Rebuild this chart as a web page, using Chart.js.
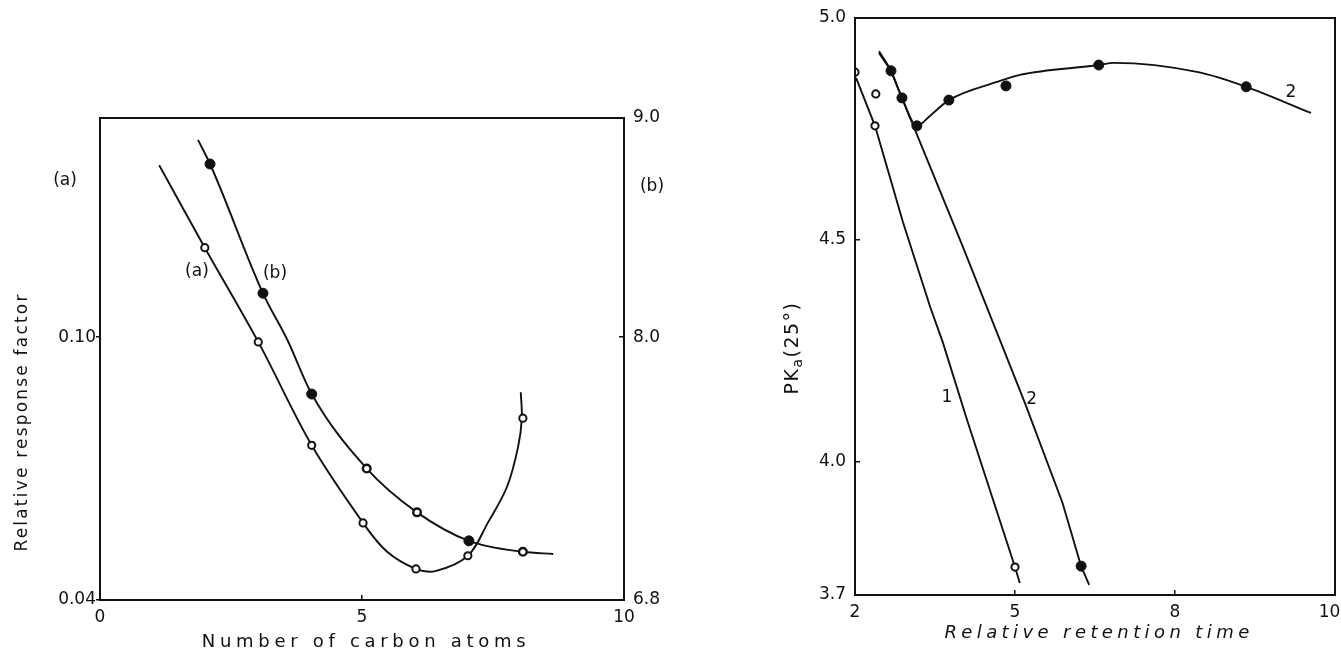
<!DOCTYPE html>
<html><head><meta charset="utf-8">
<script src="https://cdn.jsdelivr.net/npm/chart.js@4.4.1/dist/chart.umd.min.js"></script>
<style>
html,body{margin:0;padding:0;background:#fff;}
#wrap{position:relative;width:1341px;height:651px;overflow:hidden;}
#c1{position:absolute;left:0;top:0;}
#c2{position:absolute;left:700px;top:0;}
</style></head><body>
<div id="wrap">
<canvas id="c1" width="700" height="651"></canvas>
<canvas id="c2" width="641" height="651"></canvas>
</div>
<script>
// ---------------- DATA: left panel ----------------
const carbonTicks = [0, 5, 10];
const factorTicks = [0.04, 0.10];      // left axis (a)
const scaleBTicks = [6.8, 8.0, 9.0];   // right axis (b)

// curve (a): measured points (open circles)
const aMarkX = [2.0, 3.02, 4.04, 5.02, 6.03, 7.02, 8.07];
const aMarkY = [0.1204, 0.0989, 0.0753, 0.0576, 0.0471, 0.0501, 0.0815];
// curve (a): drawn curve
const aCurveX = [1.13, 2.0, 3.02, 4.04, 5.02, 5.48, 6.03, 6.4, 7.02, 7.4, 7.77, 7.98, 8.05, 8.03];
const aCurveY = [0.1392, 0.1204, 0.0989, 0.0753, 0.0576, 0.0510, 0.0471, 0.0466, 0.0501, 0.0576, 0.0659, 0.0750, 0.0815, 0.0874];

// curve (b): measured points
const bMarkX = [2.1, 3.11, 4.04, 5.09, 6.05, 7.04, 8.07];
const bMarkY = [8.79, 8.20, 7.74, 7.40, 7.20, 7.07, 7.02];
// curve (b): drawn curve
const bCurveX = [1.87, 2.1, 3.11, 3.57, 4.04, 5.09, 6.05, 7.04, 8.07, 8.65];
const bCurveY = [8.90, 8.79, 8.20, 7.99, 7.74, 7.40, 7.20, 7.07, 7.02, 7.01];

// ---------------- DATA: right panel ----------------
const retentionTicks = [2, 5, 8, 10];
const pkaTicks = [3.7, 4.0, 4.5, 5.0];

// series 1 (open circles)
const s1MarkX = [2.0, 2.39, 2.375, 5.0];
const s1MarkY = [4.878, 4.829, 4.757, 3.763];
const s1LineX = [2.02, 2.375, 2.90, 3.41, 3.65, 4.10, 4.59, 5.0, 5.09];
const s1LineY = [4.865, 4.757, 4.54, 4.349, 4.268, 4.095, 3.914, 3.763, 3.727];

// series 2 (filled circles)
const s2MarkX = [2.675, 2.88, 3.16, 3.76, 4.83, 6.57, 8.89, 6.24];
const s2MarkY = [4.881, 4.820, 4.757, 4.815, 4.847, 4.894, 4.845, 3.765];
const s2UpperX = [2.45, 2.675, 2.88, 3.16, 3.41, 3.76, 4.66, 5.09, 6.57, 6.85, 8.29, 8.89, 9.7];
const s2UpperY = [4.925, 4.881, 4.820, 4.757, 4.780, 4.815, 4.856, 4.872, 4.894, 4.899, 4.878, 4.845, 4.786];
const s2LineX = [2.45, 2.675, 2.88, 4.025, 5.185, 5.89, 6.24, 6.39];
const s2LineY = [4.921, 4.881, 4.820, 4.484, 4.133, 3.908, 3.765, 3.723];

// ---------------- styling ----------------
const INK = '#111';
const FAM = "'DejaVu Sans', sans-serif";
const TICK_FONT = {family: FAM, size: 17};
const bFilled = [true, true, true, false, false, true, false];

const pts = (xs, ys) => xs.map((x, i) => ({x, y: ys[i]}));

class EqualStepScale extends Chart.LinearScale {
  getPixelForValue(value) {
    const s = this.options.steps;
    const n = s.length - 1;
    let i = 0;
    while (i < n - 1 && value > s[i + 1]) i++;
    const dec = (i + (value - s[i]) / (s[i + 1] - s[i])) / n;
    return this.getPixelForDecimal(dec);
  }
  getValueForPixel(pixel) {
    const s = this.options.steps;
    const n = s.length - 1;
    const d = this.getDecimalForPixel(pixel) * n;
    const i = Math.min(Math.max(Math.floor(d), 0), n - 1);
    return s[i] + (d - i) * (s[i + 1] - s[i]);
  }
}
EqualStepScale.id = 'equalStep';
EqualStepScale.defaults = Chart.LinearScale.defaults;
Chart.register(EqualStepScale);

function makeTextPlugin(items) {
  return {
    id: 'figText',
    afterDraw(chart) {
      const ctx = chart.ctx;
      const ca = chart.chartArea;
      ctx.save();
      ctx.strokeStyle = INK;
      ctx.lineWidth = 2;
      ctx.strokeRect(ca.left, ca.top, ca.right - ca.left, ca.bottom - ca.top);
      ctx.fillStyle = INK;
      ctx.textBaseline = 'middle';
      for (const t of items) {
        let x, y;
        if (t.at) {
          x = chart.scales[t.xAxis].getPixelForValue(t.at[0]);
          y = chart.scales[t.yAxis].getPixelForValue(t.at[1]);
        } else {
          [x, y] = t.pos(ca, chart.scales);
        }
        ctx.save();
        ctx.translate(x, y);
        if (t.rotate) ctx.rotate(t.rotate);
        if ('letterSpacing' in ctx) ctx.letterSpacing = (t.spacing || 0) + 'px';
        const parts = t.parts || [{text: t.text}];
        let total = 0;
        const widths = parts.map(p => {
          ctx.font = `${t.style || ''} ${p.size || t.size || 17}px ${FAM}`;
          const w = ctx.measureText(p.text).width;
          total += w;
          return w;
        });
        let cx = -total / 2;
        ctx.textAlign = 'left';
        parts.forEach((p, i) => {
          ctx.font = `${t.style || ''} ${p.size || t.size || 17}px ${FAM}`;
          ctx.fillText(p.text, cx, p.dy || 0);
          cx += widths[i];
        });
        ctx.restore();
      }
      ctx.restore();
    }
  };
}

function fixSize(prop, val) {
  return s => {
    s[prop] = val;
    s.paddingLeft = 0; s.paddingRight = 0; s.paddingTop = 0; s.paddingBottom = 0;
  };
}

function axisBase(ticksArr, fmt, tl, pad) {
  return {
    afterBuildTicks: s => { s.ticks = ticksArr.map(v => ({value: v})); },
    ticks: {font: TICK_FONT, color: INK, padding: pad, autoSkip: false, maxRotation: 0,
            callback: v => fmt(v)},
    grid: {drawOnChartArea: false, drawTicks: true, tickLength: tl, color: INK, lineWidth: 1.5},
    border: {display: false}
  };
}

// last label of the right panel sits just inside the frame edge
const lastInside = (arr) => v => (v === arr[arr.length - 1] ? String(v) + '\u2007' : String(v));

// ---------------- left chart ----------------
new Chart(document.getElementById('c1'), {
  type: 'line',
  data: {datasets: [
    {data: pts(aMarkX, aMarkY), yAxisID: 'yA', showLine: false, order: 0,
     pointRadius: 3.6, pointBorderWidth: 2, pointBorderColor: INK, pointBackgroundColor: '#fff'},
    {data: pts(bMarkX, bMarkY), yAxisID: 'yB', showLine: false, order: 0,
     pointRadius: c => bFilled[c.dataIndex] ? 5 : 3.8,
     pointBorderWidth: c => bFilled[c.dataIndex] ? 1 : 2.4,
     pointBorderColor: INK,
     pointBackgroundColor: c => bFilled[c.dataIndex] ? INK : '#fff'},
    {data: pts(aCurveX, aCurveY), yAxisID: 'yA', order: 1, pointRadius: 0,
     borderColor: INK, borderWidth: 1.9, tension: 0.35},
    {data: pts(bCurveX, bCurveY), yAxisID: 'yB', order: 1, pointRadius: 0,
     borderColor: INK, borderWidth: 1.9, cubicInterpolationMode: 'monotone'}
  ]},
  options: {
    responsive: false, animation: false, events: [],
    layout: {padding: {top: 118, left: 0, right: 0, bottom: 0}},
    plugins: {legend: {display: false}, tooltip: {enabled: false}},
    scales: {
      x: Object.assign(axisBase(carbonTicks, v => String(v), -5, 12), {
        type: 'linear', position: 'bottom', min: 0, max: 10,
        afterFit: fixSize('height', 51)
      }),
      yA: Object.assign(axisBase(factorTicks, v => v.toFixed(2), 4, 0), {
        type: 'linear', position: 'left', min: 0.04, max: 0.15,
        afterFit: fixSize('width', 100)
      }),
      yB: Object.assign(axisBase(scaleBTicks, v => v.toFixed(1), -5, 14), {
        type: 'linear', position: 'right', min: 6.8, max: 9.0,
        afterFit: fixSize('width', 76)
      })
    }
  },
  plugins: [makeTextPlugin([
    {text: 'Number of carbon atoms', size: 18, spacing: 4.7,
     pos: ca => [(ca.left + ca.right) / 2 + 4, ca.bottom + 42]},
    {text: 'Relative response factor', size: 17, spacing: 2.2, rotate: -Math.PI / 2,
     pos: ca => [ca.left - 77, ca.bottom - 178]},
    {text: '(a)', size: 17, xAxis: 'x', yAxis: 'yA', at: [1.85, 0.1149]},
    {text: '(b)', size: 17, xAxis: 'x', yAxis: 'yB', at: [3.34, 8.29]},
    {text: '(a)', size: 17, pos: (ca, s) => [ca.left - 35, s.yA.getPixelForValue(0.1357)]},
    {text: '(b)', size: 17, pos: (ca, s) => [ca.right + 28, s.yB.getPixelForValue(8.685)]}
  ])]
});

// ---------------- right chart ----------------
new Chart(document.getElementById('c2'), {
  type: 'line',
  data: {datasets: [
    {data: pts(s1MarkX, s1MarkY), showLine: false, order: 0,
     pointRadius: 3.6, pointBorderWidth: 2, pointBorderColor: INK, pointBackgroundColor: '#fff'},
    {data: pts(s2MarkX, s2MarkY), showLine: false, order: 0,
     pointRadius: 5, pointBorderWidth: 1, pointBorderColor: INK, pointBackgroundColor: INK},
    {data: pts(s1LineX, s1LineY), order: 1, pointRadius: 0, borderColor: INK, borderWidth: 1.9, tension: 0},
    {data: pts(s2UpperX, s2UpperY), order: 1, pointRadius: 0, borderColor: INK, borderWidth: 1.9,
     cubicInterpolationMode: 'monotone'},
    {data: pts(s2LineX, s2LineY), order: 1, pointRadius: 0, borderColor: INK, borderWidth: 1.9, tension: 0}
  ]},
  options: {
    responsive: false, animation: false, events: [],
    layout: {padding: {top: 18, left: 0, right: 4, bottom: 0}},
    plugins: {legend: {display: false}, tooltip: {enabled: false}},
    scales: {
      x: Object.assign(axisBase(retentionTicks, lastInside(retentionTicks), -5, 12), {
        type: 'equalStep', steps: retentionTicks, position: 'bottom', min: 2, max: 10,
        afterFit: fixSize('height', 56)
      }),
      y: Object.assign(axisBase(pkaTicks, v => v.toFixed(1), -5, 14), {
        type: 'linear', position: 'left', min: 3.7, max: 5.0,
        afterFit: fixSize('width', 155)
      })
    }
  },
  plugins: [makeTextPlugin([
    {text: 'Relative retention time', size: 18, style: 'italic', spacing: 4.4,
     pos: ca => [(ca.left + ca.right) / 2 + 4, ca.bottom + 38]},
    {parts: [{text: 'PK', size: 19}, {text: 'a', size: 14, dy: 5}, {text: '(25°)', size: 19}],
     spacing: 1.5, rotate: -Math.PI / 2,
     pos: ca => [ca.left - 62, ca.top + 330]},
    {text: '1', size: 17, xAxis: 'x', yAxis: 'y', at: [3.725, 4.144]},
    {text: '2', size: 17, xAxis: 'x', yAxis: 'y', at: [5.31, 4.14]},
    {text: '2', size: 17, xAxis: 'x', yAxis: 'y', at: [9.45, 4.833]}
  ])]
});
</script>
</body></html>
